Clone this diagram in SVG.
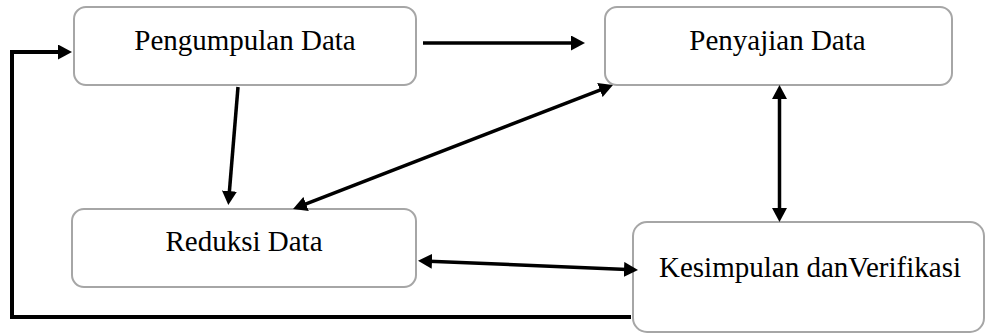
<svg xmlns="http://www.w3.org/2000/svg" width="986" height="334" viewBox="0 0 986 334">
<style>
.box{fill:#fff;stroke:#a6a6a6;stroke-width:2}
.lbl{font-family:'Liberation Serif','Times New Roman',serif;font-size:29px;fill:#000;text-anchor:middle}
.arr{fill:none;stroke:#000;stroke-width:3.5}
.fb{fill:none;stroke:#000;stroke-width:4}
</style>
<defs>
<marker id="ah" markerUnits="userSpaceOnUse" markerWidth="15" markerHeight="15" refX="9" refY="7.5" orient="auto-start-reverse" viewBox="0 0 15 15">
<path d="M0,0 L14,7.5 L0,15 z" fill="#000"/>
</marker>
</defs>
<rect width="986" height="334" fill="#fff"/>
<g id="n1"><rect class="box" x="74" y="7" width="342" height="78" rx="12"/><text class="lbl" x="245" y="50" font-family="Liberation Serif, serif">Pengumpulan Data</text></g>
<g id="n2"><rect class="box" x="605" y="7" width="347" height="78" rx="12"/><text class="lbl" x="777.5" y="50">Penyajian Data</text></g>
<g id="n3"><rect class="box" x="72" y="209" width="344" height="78" rx="12"/><text class="lbl" x="244" y="251">Reduksi Data</text></g>
<g id="n4"><rect class="box" x="633" y="222" width="351" height="110" rx="14"/><text class="lbl" x="810" y="277">Kesimpulan danVerifikasi</text></g>
<g id="connectors">
<line class="arr" x1="423" y1="43" x2="580" y2="43" marker-end="url(#ah)"/>
<line class="arr" x1="238" y1="87" x2="228.7" y2="200" marker-end="url(#ah)"/>
<line class="arr" x1="297.7" y1="207.2" x2="608.3" y2="86.8" marker-start="url(#ah)" marker-end="url(#ah)"/>
<line class="arr" x1="779.5" y1="90" x2="779.5" y2="217" marker-start="url(#ah)" marker-end="url(#ah)"/>
<line class="arr" x1="423" y1="260.9" x2="633" y2="269.8" marker-start="url(#ah)" marker-end="url(#ah)"/>
<polyline class="fb" points="631,317 12,317 12,52 67,52" marker-end="url(#ah)"/>
</g>
</svg>
